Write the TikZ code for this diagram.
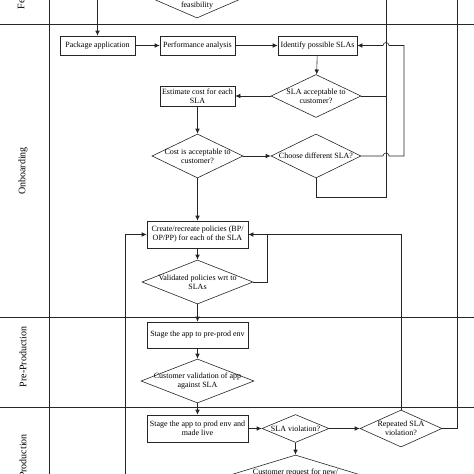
\documentclass[tikz,border=0pt]{standalone}
\usepackage{fontspec}
\setmainfont{Liberation Serif}
\usepackage{tikz}
\usetikzlibrary{shapes.geometric, arrows.meta}
\tikzset{every node/.append style={font=\fontsize{8}{9}\selectfont}}
\tikzset{
    box/.style={draw, align=center, inner sep=1.5pt, minimum height=19pt},
    decision/.style={draw, diamond, inner sep=0pt},
    every label/.append style={align=center},
    lane/.style={rotate=90, font=\fontsize{10}{12}\selectfont},
}

\begin{document}
\begin{tikzpicture}[x=1pt, y=-1pt, >={Latex[length=5pt, width=4.5pt]}, line width=0.6pt, draw=black!85]
    \useasboundingbox (0,0) rectangle (474,474);
    \clip (0,0) rectangle (474,474);
    % swim lanes
    \draw (0,24) -- (474,24);
    \draw (0,317) -- (474,317);
    \draw (0,407) -- (474,407);
    \draw (49,0) -- (49,474);
    \node[lane] (lfeas) at (22,-12) {Feasibility};
    \node[lane] (lonb) at (23,171) {Onboarding};
    \node[lane] (lpre) at (23,357) {Pre-Production};
    \node[lane] (lprod) at (23,456) {Production};

    \node[decision, minimum width=120pt, minimum height=52pt, label={[yshift=-14pt]center:feasibility}] (feas) at (197,-8) {};
    \node[box, minimum width=75pt] (pkg) at (97.5,45.5) {Package application};
    \node[box, minimum width=75pt] (perf) at (197.5,45.5) {Performance analysis};
    \node[box, minimum width=79pt] (ident) at (317.5,45.5) {Identify possible SLAs};
    \node[decision, minimum width=90pt, minimum height=43pt, label=center:{SLA acceptable to\\customer?}] (slaok) at (316,96) {};
    \node[box, minimum width=75pt, minimum height=20pt] (cost) at (197.5,96) {Estimate cost for each\\SLA};
    \node[decision, minimum width=91pt, minimum height=44pt, label=center:{Cost is acceptable to\\customer?}] (costok) at (197.5,156) {};
    \node[decision, minimum width=90pt, minimum height=44pt, label=center:{Choose different SLA?}] (chg) at (316,156) {};
    \node[box, minimum width=101pt, minimum height=27pt] (policy) at (197.5,234.5) {Create/recreate policies (BP/\\OP/PP) for each of the SLA};
    \node[decision, minimum width=111pt, minimum height=44pt, label=center:{Validated policies wrt to\\SLAs}] (valid) at (197.5,282) {};
    \node[box, minimum width=101pt, minimum height=26pt] (preprod) at (197.5,335) {Stage the app to pre-prod env};
    \node[decision, minimum width=113pt, minimum height=44pt, label=center:{Customer validation of app\\against SLA}] (custval) at (197.5,381) {};
    \node[box, minimum width=101pt, minimum height=27pt] (prod) at (197.5,428.5) {Stage the app to prod env and\\made live};
    \node[decision, minimum width=67pt, minimum height=28pt, label=center:{SLA violation?}] (viol) at (295.5,428.5) {};
    \node[decision, minimum width=82pt, minimum height=37pt, label=center:{Repeated SLA\\violation?}] (repeat) at (401,428.5) {};
    \node[decision, minimum width=164pt, minimum height=50pt, label={[yshift=7pt]center:Customer request for new/}] (newreq) at (295.5,480) {};

    \coordinate (feasout) at (97.5,0);
    \coordinate (upA) at (386,0);
    \coordinate (upB) at (457,0);
    \coordinate (loopx) at (404,0);
    \coordinate (backx) at (267,0);
    \coordinate (chgbot) at (386,197);
    \coordinate (reqin) at (125,474);

    \draw[->] (feasout) -- (pkg);
    \draw[->] (pkg) -- (perf);
    \draw[->] (perf) -- (ident);
    \draw[->] (ident) -- (slaok);
    \draw[->] (slaok) -- (cost);
    \draw (slaok.east) -- (slaok.east -| upA);
    \draw[->] (cost) -- (costok);
    \draw[->] (costok) -- (chg);
    \draw (chg.south) |- (chgbot) -- (upA);
    \draw[->] (chg.east) -- ([xshift=-3pt]chg.east -| upA) arc[start angle=180, end angle=0, radius=3pt]
        -- (chg.east -| loopx) -- (ident.east -| loopx)
        -- ([xshift=3pt]ident.east -| upA) arc[start angle=0, end angle=180, radius=3pt] -- (ident.east);
    \draw[->] (costok) -- (policy);
    \draw[->] (policy) -- (valid);
    \draw[->] (valid.east) -- (valid.east -| backx) -- (policy.east -| backx) -- (policy.east);
    \draw (repeat.north) |- (policy.east -| backx);
    \draw[->] (reqin) |- (policy.west);
    \draw[->] (valid) -- (preprod);
    \draw[->] (preprod) -- (custval);
    \draw[->] (custval) -- (prod);
    \draw[->] (prod) -- (viol);
    \draw[->] (viol) -- (repeat);
    \draw[->] (viol) -- (newreq);
    \draw (repeat.east) -| (upB);
\end{tikzpicture}
\end{document}
